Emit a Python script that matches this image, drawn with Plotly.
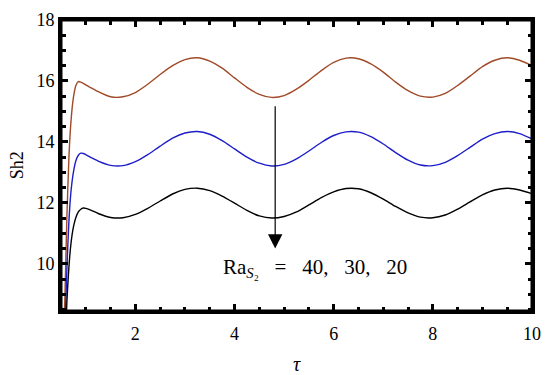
import plotly.graph_objects as go

# ---- data ----
tau = [0.55, 0.58, 0.62, 0.66, 0.70, 0.75, 0.80, 0.85, 0.90, 0.95, 1.0, 1.1,
       1.25, 1.5, 1.75, 2.0, 2.25, 2.5, 2.75, 3.0, 3.25, 3.5, 3.75, 4.0,
       4.25, 4.5, 4.75, 5.0, 5.25, 5.5, 5.75, 6.0, 6.25, 6.5, 6.75, 7.0,
       7.25, 7.5, 7.75, 8.0, 8.25, 8.5, 8.75, 9.0, 9.25, 9.5, 9.75, 10.0]

sh_ra40 = [7.5, 9.0, 11.6, 13.5, 14.65, 15.45, 15.85, 15.98, 15.96, 15.92, 15.87, 15.78,
           15.65, 15.48, 15.48, 15.62, 15.89, 16.21, 16.50, 16.70, 16.76, 16.65, 16.42, 16.10,
           15.79, 15.56, 15.46, 15.52, 15.73, 16.02, 16.34, 16.61, 16.75, 16.73, 16.56, 16.29,
           15.96, 15.68, 15.50, 15.47, 15.59, 15.85, 16.16, 16.47, 16.68, 16.76, 16.68, 16.50]

sh_ra30 = [6.5, 7.9, 9.9, 11.4, 12.35, 13.0, 13.38, 13.56, 13.63, 13.62, 13.58, 13.49,
           13.37, 13.23, 13.22, 13.35, 13.58, 13.86, 14.12, 14.29, 14.34, 14.25, 14.04, 13.77,
           13.50, 13.30, 13.21, 13.26, 13.44, 13.70, 13.98, 14.21, 14.33, 14.32, 14.17, 13.93,
           13.65, 13.40, 13.24, 13.22, 13.33, 13.55, 13.82, 14.09, 14.27, 14.34, 14.27, 14.10]

sh_ra20 = [6.0, 7.2, 8.8, 9.9, 10.65, 11.2, 11.52, 11.70, 11.79, 11.83, 11.82, 11.76,
           11.65, 11.52, 11.51, 11.62, 11.82, 12.06, 12.29, 12.44, 12.48, 12.40, 12.22, 11.99,
           11.75, 11.57, 11.50, 11.55, 11.70, 11.93, 12.17, 12.36, 12.47, 12.46, 12.33, 12.12,
           11.88, 11.67, 11.53, 11.51, 11.60, 11.79, 12.03, 12.26, 12.42, 12.48, 12.42, 12.30]

series_names = ["Ra_S2 = 40", "Ra_S2 = 30", "Ra_S2 = 20"]
series_values = [sh_ra40, sh_ra30, sh_ra20]
series_colors = ["#a04a28", "#1e1ec8", "#000000"]

x_ticks = [2, 4, 6, 8, 10]
y_ticks = [10, 12, 14, 16, 18]

arrow_tau = 4.82
arrow_from = 15.45
arrow_to = 10.5
label_text = "Ra<sub><i>S</i>\u2082</sub>\u00a0\u00a0 =\u00a0\u00a0 40,\u00a0\u00a0 30,\u00a0\u00a0 20"
label_tau = 5.63
label_sh = 9.87

serif = "Liberation Serif"

fig = go.Figure()
for name, vals, col in zip(series_names, series_values, series_colors):
    fig.add_trace(go.Scatter(x=tau, y=vals, mode="lines", name=name,
                             line=dict(color=col, width=1.4, shape="spline", smoothing=0.6),
                             showlegend=False))

fig.add_annotation(x=arrow_tau, y=arrow_to, ax=arrow_tau, ay=arrow_from,
                   xref="x", yref="y", axref="x", ayref="y",
                   showarrow=True, arrowhead=2, arrowsize=2.4, arrowwidth=1.2,
                   arrowcolor="black", text=" ")
fig.add_annotation(x=label_tau, y=label_sh, xref="x", yref="y", text=label_text,
                   showarrow=False, font=dict(family=serif, size=21, color="black"))
# y-axis title
fig.add_annotation(x=-0.094, y=0.5, xref="paper", yref="paper", text="Sh2",
                   textangle=-90, showarrow=False, xanchor="center", yanchor="middle",
                   font=dict(family=serif, size=18, color="black"))

# thick frame around the plotting area
fig.add_shape(type="rect", xref="paper", yref="paper", x0=0, y0=0, x1=1, y1=1,
              line=dict(color="black", width=3), layer="above")

axis_common = dict(
    showline=True, linecolor="black", linewidth=3, mirror="ticks",
    ticks="inside", ticklen=7, tickwidth=2.5, tickcolor="black",
    showgrid=False, zeroline=False, automargin=False,
    tickfont=dict(family=serif, size=18, color="black"),
    minor=dict(ticks="inside", ticklen=4.5, tickwidth=2.5, tickcolor="black", dtick=0.5, showgrid=False),
)

fig.update_xaxes(range=[0.5, 10], tickvals=x_ticks, ticktext=[str(v) for v in x_ticks],
                 ticklabelstandoff=4,
                 title=dict(text="<i>τ</i>", font=dict(family=serif, size=20, color="black")),
                 **axis_common)
fig.update_yaxes(range=[8.45, 18], tickvals=y_ticks, ticktext=[str(v) for v in y_ticks],
                 **axis_common)

fig.update_layout(width=550, height=375, margin=dict(l=61, r=18, t=20, b=64, autoexpand=False),
                  paper_bgcolor="white", plot_bgcolor="white",
                  font=dict(family=serif, color="black"))

fig.write_html("out.html", config={"displayModeBar": False},
               post_script="document.body.style.margin='0px';")
